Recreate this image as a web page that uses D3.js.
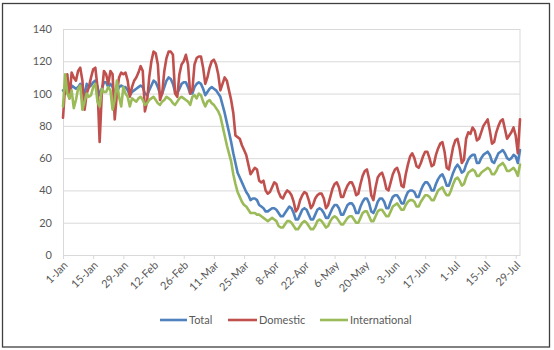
<!DOCTYPE html>
<html><head><meta charset="utf-8">
<script src="https://cdn.jsdelivr.net/npm/d3@7"></script>
<style>html,body{margin:0;padding:0;background:#fff}svg{display:block}</style>
</head><body><svg id="c" width="554" height="350"></svg>
<script>
// ---- data ----
const startDate = "2020-01-01";
const seriesNames = ["Total", "Domestic", "International"];
const total = [
102,100,103,99,105,104,103, 104,106,104,99,106,104,105, 107,108,104,99,103,107,107,
104,106,104,100,101,104,105, 104,104,102,99,101,102,103, 104,105,104,100,99,102,105,
108,107,104,100,100,104,108, 110,109,106,101,100,103,106, 107,107,104,100,100,104,106,
107,106,103,99,101,103,104, 103,102,100,98,93,88,82, 76,70,63,57,51,48,45,
42,39,37,34,35,35,34, 31,30,29,27,27,28,29, 29,28,26,24,24,26,28,
30,29,26,22,22,25,28, 29,28,25,22,22,25,28, 29,28,26,23,23,26,29,
31,31,29,25,25,28,31, 32,32,30,26,26,30,33, 35,35,32,27,26,29,33,
35,35,33,29,29,33,36, 37,37,35,32,32,36,39, 40,40,39,36,36,40,43,
45,45,43,40,40,44,47, 49,50,47,43,43,47,51, 54,56,54,51,52,56,59,
61,62,62,57,57,60,62, 63,64,62,58,57,60,63, 64,65,63,60,59,60,62,
61,57,65];
const domestic = [
85,105,112,97,113,110,108, 114,116,108,90,100,104,110, 115,116,104,70,100,114,112,
106,114,112,84,100,110,113, 112,113,108,98,104,108,110, 113,117,114,89,95,110,120,
126,125,118,96,100,114,122, 126,126,124,100,98,112,118, 120,124,118,100,102,118,122,
123,123,116,106,110,116,120, 121,118,112,102,106,110,108, 102,96,88,74,73,72,68,
65,62,56,50,52,54,53, 46,45,46,40,38,39,42, 45,44,39,36,35,38,40,
39,37,33,27,29,34,37, 39,38,34,29,31,35,37, 38,38,35,29,31,36,41,
44,45,42,36,36,40,43, 45,45,42,37,38,44,49, 52,53,47,37,34,42,48,
50,51,47,41,40,45,50, 53,54,50,43,42,50,56, 61,63,60,55,54,57,61,
64,64,60,55,56,62,66, 69,70,64,54,53,60,67, 71,72,66,57,59,72,76,
75,79,77,71,72,76,80, 82,84,77,69,70,76,80, 83,84,78,72,74,76,79,
74,63,84];
const international = [
92,112,100,97,102,91,96, 103,105,90,95,100,98,99, 104,106,95,92,103,101,101,
104,102,90,96,108,98,92, 104,100,98,92,97,96,95, 97,98,96,93,94,96,97,
98,96,94,93,95,96,98, 97,96,94,93,95,97,98, 97,96,95,93,98,99,97,
100,99,95,92,95,96,94, 93,91,89,86,80,74,68, 63,58,50,44,39,36,33,
31,30,28,26,26,26,25, 25,24,23,22,21,22,23, 22,21,18,17,17,19,21,
21,20,18,16,16,18,20, 21,20,18,16,16,18,21, 22,21,19,17,18,21,23,
24,23,21,19,19,21,23, 24,24,22,20,20,23,26, 27,27,24,21,21,24,27,
28,28,26,24,24,27,30, 31,32,30,28,28,31,33, 34,34,33,30,30,33,35,
37,37,36,34,34,37,40, 41,42,39,37,37,40,44, 47,48,46,43,44,48,51,
52,53,52,49,49,51,52, 53,54,53,50,50,52,55, 56,57,55,52,52,53,54,
52,49,56];
const yTicks = [0, 20, 40, 60, 80, 100, 120, 140];
const xTickLabels = ["1-Jan","15-Jan","29-Jan","12-Feb","26-Feb","11-Mar","25-Mar","8-Apr",
  "22-Apr","6-May","20-May","3-Jun","17-Jun","1-Jul","15-Jul","29-Jul"];

// ---- chart ----
const colors = {Total: "#4F81BD", Domestic: "#C0504D", International: "#9BBB59"};
const values = {Total: total, Domestic: domestic, International: international};
const svg = d3.select("#c");
const font = "Lato, 'Open Sans', sans-serif";
const L = 63, R = 520, T = 29, B = 255;

svg.append("rect").attr("x", 2.5).attr("y", 3.5).attr("width", 547).attr("height", 343.5)
  .attr("fill", "#fff").attr("stroke", "#404040").attr("stroke-width", 1.3);

const d0 = d3.utcParse("%Y-%m-%d")(startDate);
const dates = total.map((_, i) => d3.utcDay.offset(d0, i));
const x = d3.scaleUtc().domain([dates[0], dates[dates.length - 1]]).range([L, R]);
const y = d3.scaleLinear().domain([0, 140]).range([B, T]);
const tickDates = xTickLabels.map(s => d3.utcParse("%d-%b-%Y")(s + "-2020"));

// gridlines
const grid = svg.append("g").attr("transform", `translate(${L},0)`)
  .call(d3.axisLeft(y).tickValues(yTicks).tickSize(-(R - L)).tickFormat(""));
grid.select(".domain").remove();
grid.selectAll("line").attr("stroke", "#d9d9d9").attr("stroke-width", 1);

// y labels
const ya = svg.append("g").attr("transform", `translate(${L},0)`)
  .call(d3.axisLeft(y).tickValues(yTicks).tickSize(0).tickPadding(11));
ya.select(".domain").attr("stroke", "#d9d9d9");
ya.selectAll("text").attr("font-family", font).attr("font-size", 11).attr("fill", "#595959");

// right plot border
svg.append("line").attr("x1", R).attr("x2", R).attr("y1", T).attr("y2", B)
  .attr("stroke", "#d9d9d9");

// x axis
const xa = svg.append("g").attr("transform", `translate(0,${B})`)
  .call(d3.axisBottom(x).tickValues(tickDates).tickFormat((d, i) => xTickLabels[i]).tickSize(4).tickSizeOuter(0));
xa.select(".domain").attr("stroke", "#d9d9d9");
xa.selectAll("line").attr("stroke", "#d9d9d9");
xa.selectAll("text").attr("font-family", font).attr("font-size", 11).attr("fill", "#595959")
  .attr("text-anchor", "end").attr("dy", null).attr("y", null)
  .attr("transform", "translate(3,9) rotate(-45)").attr("dominant-baseline", "middle");

// lines
const line = d3.line().x((d, i) => x(dates[i])).y(d => y(d));
seriesNames.forEach(name => {
  svg.append("path").datum(values[name]).attr("d", line)
    .attr("fill", "none").attr("stroke", colors[name]).attr("stroke-width", 2.6)
    .attr("stroke-linejoin", "round").attr("stroke-linecap", "round");
});

// legend
const legendPos = [{x: 160, w: 27}, {x: 228, w: 29}, {x: 320, w: 28}];
seriesNames.forEach((name, i) => {
  const p = legendPos[i];
  svg.append("line").attr("x1", p.x).attr("x2", p.x + p.w).attr("y1", 320).attr("y2", 320)
    .attr("stroke", colors[name]).attr("stroke-width", 2.6);
  svg.append("text").attr("x", p.x + p.w + 2).attr("y", 320).attr("dy", "0.35em")
    .attr("font-family", font).attr("font-size", 11).attr("fill", "#595959").text(name);
});
</script></body></html>
